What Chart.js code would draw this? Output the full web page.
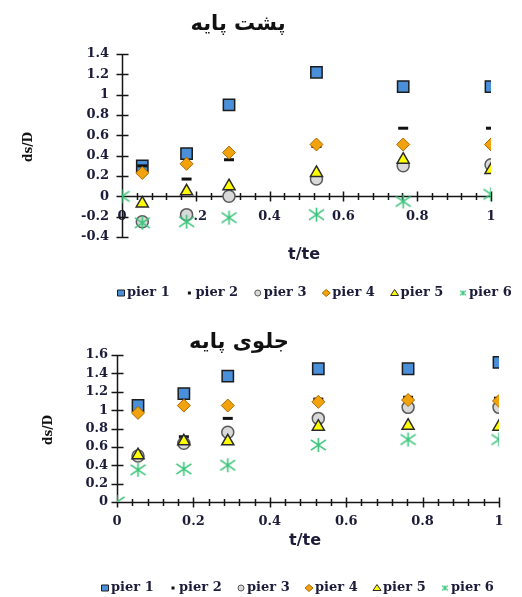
<!DOCTYPE html>
<html>
<head>
<meta charset="utf-8">
<script src="https://cdn.jsdelivr.net/npm/chart.js@4.4.0/dist/chart.umd.min.js"></script>
<style>
    html, body { margin: 0; padding: 0; background: #fff; }
    #wrap { position: relative; width: 522px; height: 597px; overflow: hidden; }
    .box { position: absolute; left: 0; width: 522px; }
    #topBox { top: 0; height: 310px; }
    #botBox { top: 310px; height: 287px; }
</style>
</head>
<body>
<div id="wrap">
    <div class="box" id="topBox"><canvas id="backChart" width="522" height="310"></canvas></div>
    <div class="box" id="botBox"><canvas id="frontChart" width="522" height="287"></canvas></div>
</div>
<script>
// t/te at the measuring points (pier 6 also has the origin)
const tPoints = [0.055, 0.175, 0.29, 0.527, 0.762, 1.0];
const tPier6 = [0, 0.055, 0.175, 0.29, 0.527, 0.762, 1.0];

const pierNames = ['pier 1', 'pier 2', 'pier 3', 'pier 4', 'pier 5', 'pier 6'];

// پشت پایه (behind the pier) - ds/D
const backPier1 = [0.30, 0.42, 0.90, 1.22, 1.08, 1.08];
const backPier2 = [0.30, 0.17, 0.36, 0.49, 0.67, 0.67];
const backPier3 = [-0.25, -0.18, 0.00, 0.17, 0.30, 0.31];
const backPier4 = [0.23, 0.32, 0.43, 0.51, 0.51, 0.51];
const backPier5 = [-0.07, 0.05, 0.10, 0.23, 0.36, 0.26];
const backPier6 = [0, -0.26, -0.25, -0.21, -0.18, -0.05, 0.02];

// جلوی پایه (in front of the pier) - ds/D
const frontPier1 = [1.05, 1.18, 1.37, 1.45, 1.45, 1.52];
const frontPier2 = [0.51, 0.71, 0.91, 1.12, 1.14, 1.13];
const frontPier3 = [0.50, 0.64, 0.76, 0.91, 1.03, 1.03];
const frontPier4 = [0.97, 1.05, 1.05, 1.09, 1.11, 1.10];
const frontPier5 = [0.51, 0.66, 0.66, 0.82, 0.83, 0.82];
const frontPier6 = [0, 0.35, 0.36, 0.40, 0.62, 0.68, 0.68];

const INK = '#1c1c3a';
const GREEN = '#3cc47c';

// six-armed asterisk marker (Excel style), as a small canvas
function makeAsterisk(w, h, lw) {
    const c = document.createElement('canvas');
    c.width = w; c.height = h;
    const g = c.getContext('2d');
    g.strokeStyle = GREEN;
    g.lineWidth = lw;
    const cx = w / 2, cy = h / 2;
    g.beginPath();
    g.moveTo(cx, 1); g.lineTo(cx, h - 1);
    g.moveTo(1, cy - h * 0.32); g.lineTo(w - 1, cy + h * 0.32);
    g.moveTo(1, cy + h * 0.32); g.lineTo(w - 1, cy - h * 0.32);
    g.stroke();
    return c;
}
const bigStar = makeAsterisk(17, 16, 1.6);
const smallStar = makeAsterisk(8, 7, 1.2);

const pierStyles = [
    { pointStyle: 'rect', radius: 8, bg: '#4a8fd9', border: '#1c1c1c', bw: 1.5 },
    { pointStyle: 'line', radius: 5, bg: '#111', border: '#111', bw: 3 },
    { pointStyle: 'circle', radius: 6, bg: '#d9d9d9', border: '#5a5a5a', bw: 1.5 },
    { pointStyle: 'rectRot', radius: 6.5, bg: '#f2a20c', border: '#a86a00', bw: 1 },
    { pointStyle: 'triangle', radius: 7, bg: '#ffff00', border: '#2a2a2a', bw: 1.5 },
    { pointStyle: bigStar, radius: 8, bg: GREEN, border: GREEN, bw: 1.5 }
];

function buildDatasets(series) {
    return series.map((vals, i) => {
        const xs = i === 5 ? tPier6 : tPoints;
        const s = pierStyles[i];
        return {
            label: pierNames[i],
            data: vals.map((v, k) => ({ x: xs[k], y: v })),
            pointStyle: s.pointStyle,
            pointRadius: s.radius,
            pointHoverRadius: s.radius,
            backgroundColor: s.bg,
            borderColor: s.border,
            borderWidth: s.bw,
            showLine: false,
            order: 6 - i   // later piers drawn on top, like Excel
        };
    });
}

// axis lines with ticks crossing them
const crossAxes = {
    id: 'crossAxes',
    beforeDatasetsDraw(chart) {
        const { ctx, scales: { x, y } } = chart;
        const x0 = Math.round(x.getPixelForValue(0)) + 0.5;
        const x1 = x.getPixelForValue(1);
        const yTop = y.getPixelForValue(y.max);
        const yBot = y.getPixelForValue(y.min);
        const yZero = Math.round(y.getPixelForValue(0)) + 0.5;
        ctx.save();
        ctx.strokeStyle = '#151515';
        ctx.lineWidth = 1.5;
        ctx.beginPath();
        ctx.moveTo(x0, yTop); ctx.lineTo(x0, yBot);
        y.ticks.forEach(t => {
            const p = Math.round(y.getPixelForValue(t.value)) + 0.5;
            ctx.moveTo(x0 - 6, p); ctx.lineTo(x0 + 6, p);
        });
        ctx.moveTo(x0, yZero); ctx.lineTo(x1, yZero);
        for (let k = 0; k <= 25; k++) {
            const p = Math.round(x.getPixelForValue(k * 0.04)) + 0.5;
            const h = k % 5 === 0 ? 5 : 3.5;
            ctx.moveTo(p, yZero - h); ctx.lineTo(p, yZero + h);
        }
        ctx.stroke();
        ctx.restore();
    }
};

function drawLegendMark(ctx, i, x, y) {
    const s = pierStyles[i];
    ctx.save();
    ctx.fillStyle = s.bg;
    ctx.strokeStyle = s.border;
    ctx.lineWidth = 1;
    ctx.beginPath();
    if (i === 0) {
        ctx.rect(x - 3.5, y - 3, 7, 6);
        ctx.fill(); ctx.stroke();
    } else if (i === 1) {
        ctx.fillRect(x - 1.5, y - 1.5, 3, 3);
    } else if (i === 2) {
        ctx.arc(x, y, 3, 0, Math.PI * 2);
        ctx.fill(); ctx.stroke();
    } else if (i === 3) {
        ctx.moveTo(x - 4, y); ctx.lineTo(x, y - 3.5); ctx.lineTo(x + 4, y); ctx.lineTo(x, y + 3.5);
        ctx.closePath(); ctx.fill(); ctx.stroke();
    } else if (i === 4) {
        ctx.moveTo(x, y - 3.5); ctx.lineTo(x + 4, y + 2.5); ctx.lineTo(x - 4, y + 2.5);
        ctx.closePath(); ctx.fill(); ctx.stroke();
    } else {
        ctx.drawImage(smallStar, x - 4, y - 3.5);
    }
    ctx.restore();
}

// titles, axis titles and the legend row
const decor = {
    id: 'decor',
    afterDraw(chart, args, opts) {
        const ctx = chart.ctx;
        ctx.save();
        ctx.fillStyle = '#111';
        ctx.textAlign = 'center';
        ctx.textBaseline = 'middle';

        ctx.font = 'bold 21px "DejaVu Sans"';
        ctx.direction = 'rtl';
        ctx.fillText(opts.title, opts.titleX, opts.titleY);
        ctx.direction = 'ltr';

        ctx.font = 'bold 16px "DejaVu Sans"';
        ctx.fillStyle = INK;
        ctx.fillText('t/te', opts.xTitleX, opts.xTitleY);

        ctx.save();
        ctx.translate(opts.yTitleX, opts.yTitleY);
        ctx.rotate(-Math.PI / 2);
        ctx.font = 'bold 12px "DejaVu Serif"';
        ctx.fillStyle = '#111';
        ctx.fillText('ds/D', 0, 0);
        ctx.restore();

        ctx.font = 'bold 13px "DejaVu Serif"';
        ctx.textAlign = 'left';
        pierNames.forEach((name, i) => {
            const mx = opts.legendX + i * opts.legendStep;
            drawLegendMark(ctx, i, mx, opts.legendY);
            ctx.fillStyle = INK;
            ctx.fillText(name, mx + 6, opts.legendY);
        });
        ctx.restore();
    }
};

const tickFmt = v => String(+Number(v).toFixed(2));

function makeOptions(yMin, yMax, pad, yWidth, yPad, xPad, deco) {
    return {
        responsive: false,
        animation: false,
        layout: { padding: pad },
        plugins: {
            legend: { display: false },
            tooltip: { enabled: false },
            decor: deco
        },
        scales: {
            x: {
                type: 'linear',
                position: { y: 0 },
                min: 0, max: 1,
                grid: { display: false, drawTicks: false },
                border: { display: false },
                ticks: {
                    stepSize: 0.2,
                    autoSkip: false,
                    padding: xPad,
                    color: INK,
                    font: { family: 'DejaVu Serif', weight: 'bold', size: 13 },
                    callback: tickFmt,
                    maxRotation: 0
                }
            },
            y: {
                min: yMin, max: yMax,
                afterFit(scale) { scale.width = yWidth; },
                grid: { display: false, drawTicks: false },
                border: { display: false },
                ticks: {
                    stepSize: 0.2,
                    autoSkip: false,
                    padding: yPad,
                    color: INK,
                    font: { family: 'DejaVu Serif', weight: 'bold', size: 13 },
                    callback: tickFmt
                }
            }
        }
    };
}

new Chart(document.getElementById('backChart'), {
    type: 'scatter',
    data: { datasets: buildDatasets([backPier1, backPier2, backPier3, backPier4, backPier5, backPier6]) },
    options: makeOptions(-0.4, 1.4, { left: 0, top: 54, right: 31, bottom: 73 }, 122, 13, 12, {
        title: 'پشت پایه', titleX: 238, titleY: 25,
        xTitleX: 304, xTitleY: 255,
        yTitleX: 29, yTitleY: 147,
        legendX: 121, legendY: 293, legendStep: 68.4
    }),
    plugins: [crossAxes, decor]
});

new Chart(document.getElementById('frontChart'), {
    type: 'scatter',
    data: { datasets: buildDatasets([frontPier1, frontPier2, frontPier3, frontPier4, frontPier5, frontPier6]) },
    options: makeOptions(0, 1.6, { left: 0, top: 45, right: 23, bottom: 95 }, 117, 9, 12, {
        title: 'جلوی پایه', titleX: 239, titleY: 33,
        xTitleX: 305, xTitleY: 231,
        yTitleX: 49, yTitleY: 120,
        legendX: 105, legendY: 278, legendStep: 68
    }),
    plugins: [crossAxes, decor]
});
</script>
</body>
</html>
